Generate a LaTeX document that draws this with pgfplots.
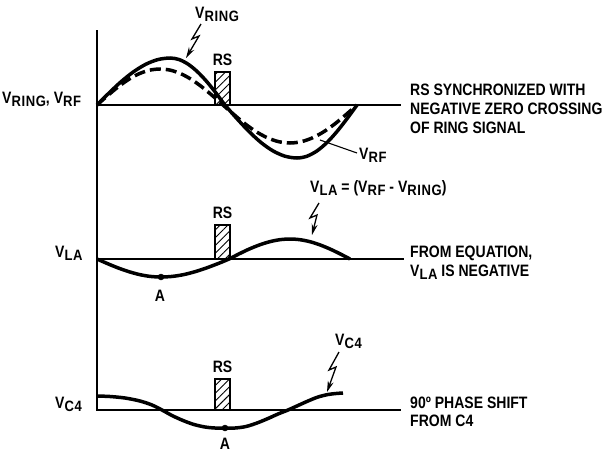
\documentclass[border=0pt]{standalone}
\usepackage{pgfplots}
\pgfplotsset{compat=1.18}
\usepackage{fontspec}
\setmainfont{Liberation Sans}[FakeStretch=0.85]
\newfontfamily\subfont{Liberation Sans}[FakeStretch=0.87, LetterSpace=4]
\usetikzlibrary{arrows.meta,patterns.meta}
\newcommand\lbl{\bfseries\fontsize{16.5}{16.5}\selectfont}
\newcommand\sub[1]{\raisebox{-3.5pt}{\subfont\bfseries\fontsize{15}{15}\selectfont#1}}
\begin{document}
\begin{tikzpicture}
\begin{axis}[scale only axis, width=605pt, height=453pt,
  xmin=0, xmax=605, ymin=0, ymax=453, y dir=reverse, hide axis, clip=false]
% axes
\addplot[black, line width=1.3pt] coordinates {(97,30) (97,411)};
\addplot[black, line width=1.2pt] coordinates {(97,105) (401,105)};
\addplot[black, line width=1.2pt] coordinates {(97,259) (404,259)};
\addplot[black, line width=1.2pt] coordinates {(97,410) (401,410)};
% RS hatched pulses
\addplot[black, line width=1.1pt, pattern={Lines[angle=45,distance=5.5pt,line width=0.9pt]}] coordinates {(215,105) (215,72) (230,72) (230,105) (215,105)};
\addplot[black, line width=1.1pt, pattern={Lines[angle=45,distance=5.5pt,line width=0.9pt]}] coordinates {(215,259) (215,225) (230,225) (230,259) (215,259)};
\addplot[black, line width=1.1pt, pattern={Lines[angle=45,distance=5.5pt,line width=0.9pt]}] coordinates {(215,410) (215,379) (230,379) (230,410) (215,410)};
% V_RING (solid)
\addplot[black, line width=3.5pt, smooth, tension=0.5] coordinates {
(97,105) (109.2,92.8) (121.3,81.5) (133.5,71.8) (145.7,64.3) (157.8,59.6) (170,58)
(179.2,59.6) (188.3,64.3) (197.5,71.8) (206.7,81.5) (215.8,92.8) (225,105)
(237,118.7) (249,131.5) (261,142.5) (273,150.9) (285,156.2) (297,158)
(307,156.2) (317,150.9) (327,142.5) (337,131.5) (347,118.7) (357,105)};
% V_RF (dashed)
\addplot[black, line width=3.5pt, smooth, tension=0.5, dash pattern=on 11pt off 5pt] coordinates {
(97,105) (107.5,95.7) (118,87) (128.5,79.5) (139,73.8) (149.5,70.2) (160,69)
(170.5,70.2) (181,73.8) (191.5,79.5) (202,87) (212.5,95.7) (223,105)
(234.2,114.8) (245.3,124) (256.5,131.9) (267.7,137.9) (278.8,141.7) (290,143)
(301.2,141.7) (312.3,137.9) (323.5,131.9) (334.7,124) (345.8,114.8) (357,105)};
% V_LA
\addplot[black, line width=3.5pt, smooth, tension=0.5] coordinates {
(97,259) (107.7,263.7) (118.3,268) (129,271.7) (139.7,274.6) (150.3,276.4) (161,277)
(172.3,276.4) (183.7,274.6) (195,271.7) (206.3,268) (217.7,263.7) (229,259)
(239.2,253.8) (249.3,249) (259.5,244.9) (269.7,241.7) (279.8,239.7) (290,239)
(300,239.7) (310,241.7) (320,244.9) (330,249) (340,253.8) (350,259)};
% V_C4
\addplot[black, line width=3.5pt, smooth, tension=0.5] coordinates {
(97,396) (110,396.5) (125,398) (140,401) (152,405) (162,410)
(172,415.5) (183,420.5) (194,424.5) (205,427) (215,428) (225,428)
(235,428) (246,426.5) (257,423) (268,418.5) (278,414) (288,410)
(298,405.5) (308,401) (318,397) (328,394.5) (336,393.5) (343,393)};
% points A
\addplot[black, only marks, mark=*, mark size=3pt] coordinates {(161,277) (225,428)};
\addplot[black, only marks, mark=*, mark size=2pt] coordinates {(230,258)};
% V_RF pointer
\addplot[black, line width=1.1pt] coordinates {(320,140) (357,153)};
% lightning arrows
\addplot[black, line width=1.3pt, -{Stealth[length=11pt,width=6pt]}] coordinates {(201,24) (192,39) (199,36) (186,58)};
\addplot[black, line width=1.3pt, -{Stealth[length=11pt,width=6pt]}] coordinates {(319,203) (310,218) (317,215) (312,235)};
\addplot[black, line width=1.3pt, -{Stealth[length=11pt,width=6pt]}] coordinates {(339,352) (329,370) (336,367) (327,392)};
% texts
\node[anchor=base, font=\lbl] at (axis cs:222.5,65) {RS};
\node[anchor=base, font=\lbl] at (axis cs:222.5,218) {RS};
\node[anchor=base, font=\lbl] at (axis cs:222.5,372) {RS};
\node[anchor=base, font=\lbl] at (axis cs:160,301) {A};
\node[anchor=base, font=\lbl] at (axis cs:225,449) {A};
\node[anchor=base west, font=\lbl, inner sep=0pt] at (axis cs:195,18) {V\sub{RING}};
\node[anchor=base west, font=\lbl, inner sep=0pt] at (axis cs:359,159) {V\sub{RF}};
\node[anchor=base west, font=\lbl, inner sep=0pt] at (axis cs:310,192) {V\sub{LA} = (V\sub{RF} - V\sub{RING})};
\node[anchor=base west, font=\lbl, inner sep=0pt] at (axis cs:335,345) {V\sub{C4}};
\node[anchor=base west, font=\lbl, inner sep=0pt] at (axis cs:2,103) {V\sub{RING}, V\sub{RF}};
\node[anchor=base west, font=\lbl, inner sep=0pt] at (axis cs:55,257) {V\sub{LA}};
\node[anchor=base west, font=\lbl, inner sep=0pt] at (axis cs:55,408) {V\sub{C4}};
\node[anchor=base west, font=\lbl, inner sep=0pt] at (axis cs:410,95) {RS SYNCHRONIZED WITH};
\node[anchor=base west, font=\lbl, inner sep=0pt] at (axis cs:410,114) {NEGATIVE ZERO CROSSING};
\node[anchor=base west, font=\lbl, inner sep=0pt] at (axis cs:410,133) {OF RING SIGNAL};
\node[anchor=base west, font=\lbl, inner sep=0pt] at (axis cs:410,257) {FROM EQUATION,};
\node[anchor=base west, font=\lbl, inner sep=0pt] at (axis cs:410,276) {V\sub{LA} IS NEGATIVE};
\node[anchor=base west, font=\lbl, inner sep=0pt] at (axis cs:410,408) {90º PHASE SHIFT};
\node[anchor=base west, font=\lbl, inner sep=0pt] at (axis cs:410,426) {FROM C4};
\end{axis}
\pgfresetboundingbox
\path (current axis.south west) rectangle (current axis.north east);
\end{tikzpicture}
\end{document}
